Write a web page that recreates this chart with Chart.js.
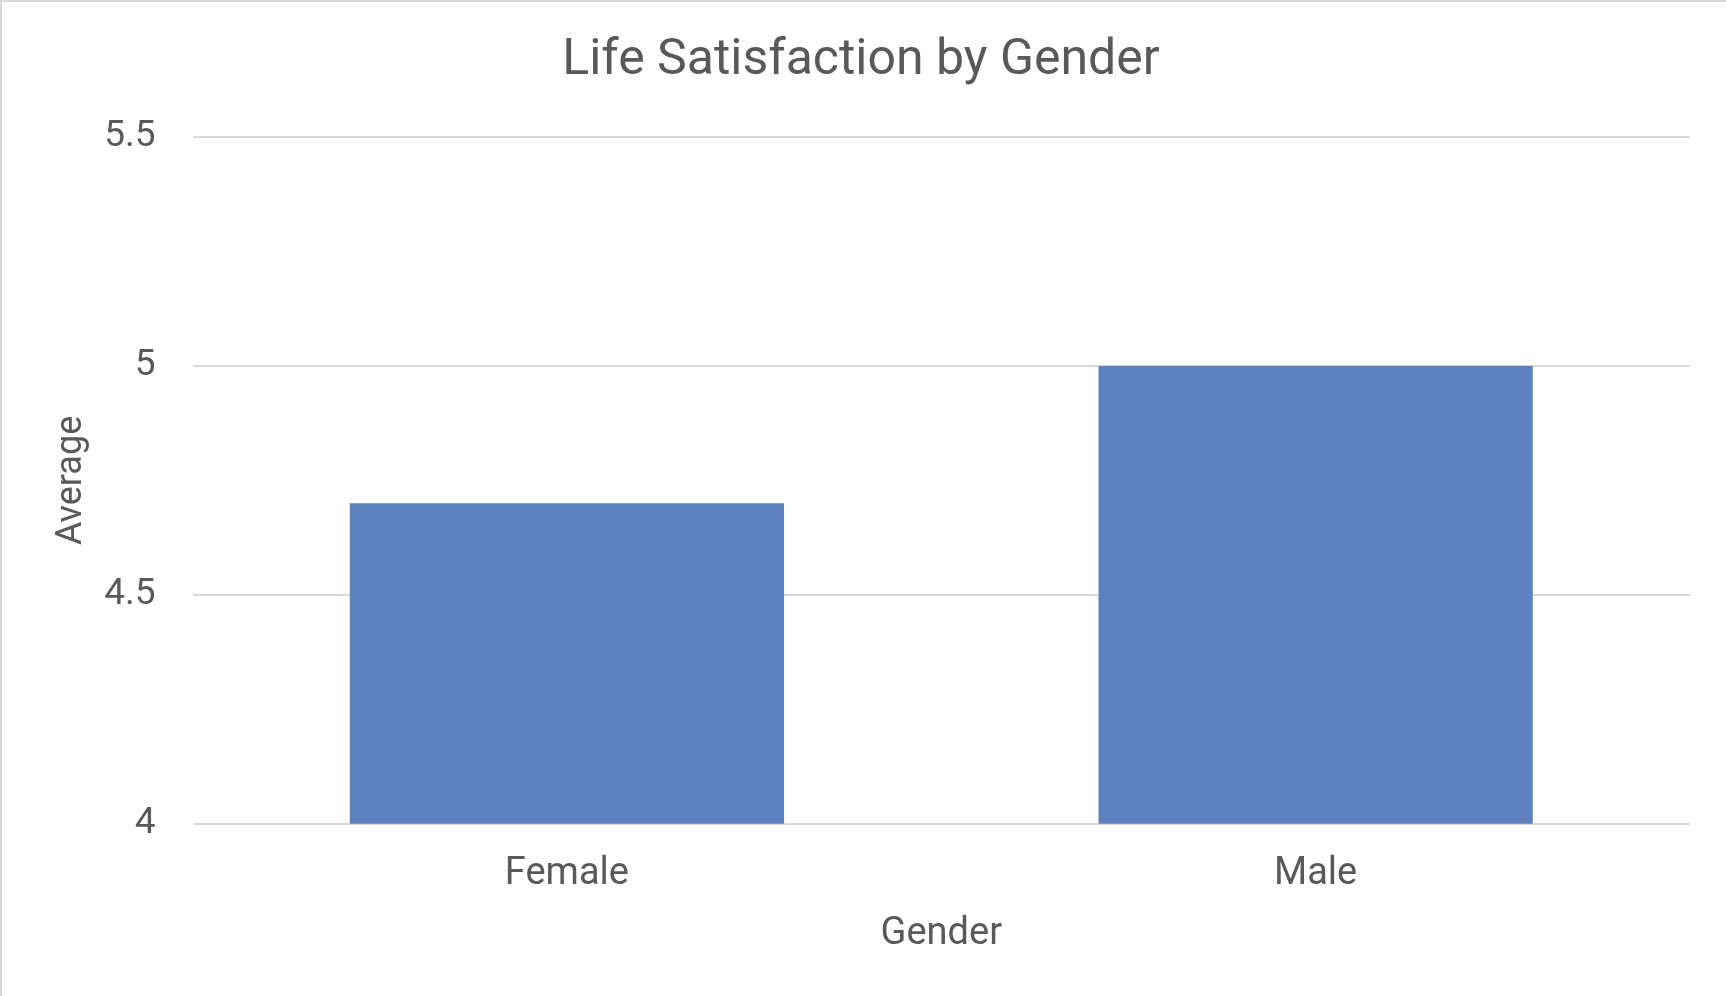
<!DOCTYPE html>
<html lang="en">
<head>
    <meta charset="UTF-8">
    <title>Life Satisfaction by Gender</title>
    <script src="https://cdn.jsdelivr.net/npm/chart.js"></script>
    <style>
        html, body { margin: 0; padding: 0; background: #ffffff; }
        #frame {
            position: absolute; left: 0; top: 0;
            width: 1726px; height: 996px;
            box-sizing: border-box;
            border-left: 2px solid #d9d9d9;
            border-top: 2px solid #d9d9d9;
            background: #ffffff;
        }
    </style>
</head>
<body>
    <div id="frame"><canvas id="barChart"></canvas></div>

    <script>
        // chart data
        const genders = ['Female', 'Male'];
        const averages = [4.70, 5.00];
        const yTicks = [4, 4.5, 5, 5.5];

        const textColor = '#595959';
        const gridColor = '#d9d9d9';
        const fontFamily = 'Roboto, "Liberation Sans", sans-serif';

        const ctx = document.getElementById('barChart').getContext('2d');
        new Chart(ctx, {
            type: 'bar',
            data: {
                labels: genders,
                datasets: [{
                    label: 'Average',
                    data: averages,
                    backgroundColor: '#5f80bf',
                    borderWidth: 0,
                    barPercentage: 0.58,
                    categoryPercentage: 1.0
                }]
            },
            options: {
                responsive: true,
                maintainAspectRatio: false,
                animation: false,
                layout: {
                    padding: { left: 0, right: 6, top: 0, bottom: 39 }
                },
                plugins: {
                    legend: { display: false },
                    tooltip: { enabled: false },
                    title: {
                        display: true,
                        text: 'Life Satisfaction by Gender',
                        color: textColor,
                        font: { family: fontFamily, size: 50, weight: 'normal' },
                        padding: { top: 29, bottom: 46 }
                    }
                },
                scales: {
                    x: {
                        grid: { display: false, drawTicks: false },
                        border: { display: false },
                        ticks: {
                            color: textColor,
                            font: { family: fontFamily, size: 38 },
                            padding: 28
                        },
                        title: {
                            display: true,
                            text: 'Gender',
                            color: textColor,
                            font: { family: fontFamily, size: 38 },
                            padding: { top: -14, bottom: 0 }
                        }
                    },
                    y: {
                        min: yTicks[0],
                        max: yTicks[yTicks.length - 1],
                        afterBuildTicks: function (scale) {
                            scale.ticks = yTicks.map(v => ({ value: v }));
                        },
                        grid: {
                            color: gridColor,
                            lineWidth: 2,
                            drawTicks: false
                        },
                        border: { display: false },
                        ticks: {
                            color: textColor,
                            font: { family: fontFamily, size: 37 },
                            padding: 37,
                            callback: function (value) { return String(value); }
                        },
                        title: {
                            display: true,
                            text: 'Average',
                            color: textColor,
                            font: { family: fontFamily, size: 36 },
                            padding: { top: 48, bottom: -26 }
                        }
                    },
                    // empty right-hand margin so the title stays centred on the page
                    yRight: {
                        type: 'linear',
                        position: 'right',
                        grid: { display: false, drawTicks: false },
                        border: { display: false },
                        ticks: { display: false },
                        afterFit: function (scale) { scale.width = 30; }
                    }
                }
            }
        });
    </script>
</body>
</html>
